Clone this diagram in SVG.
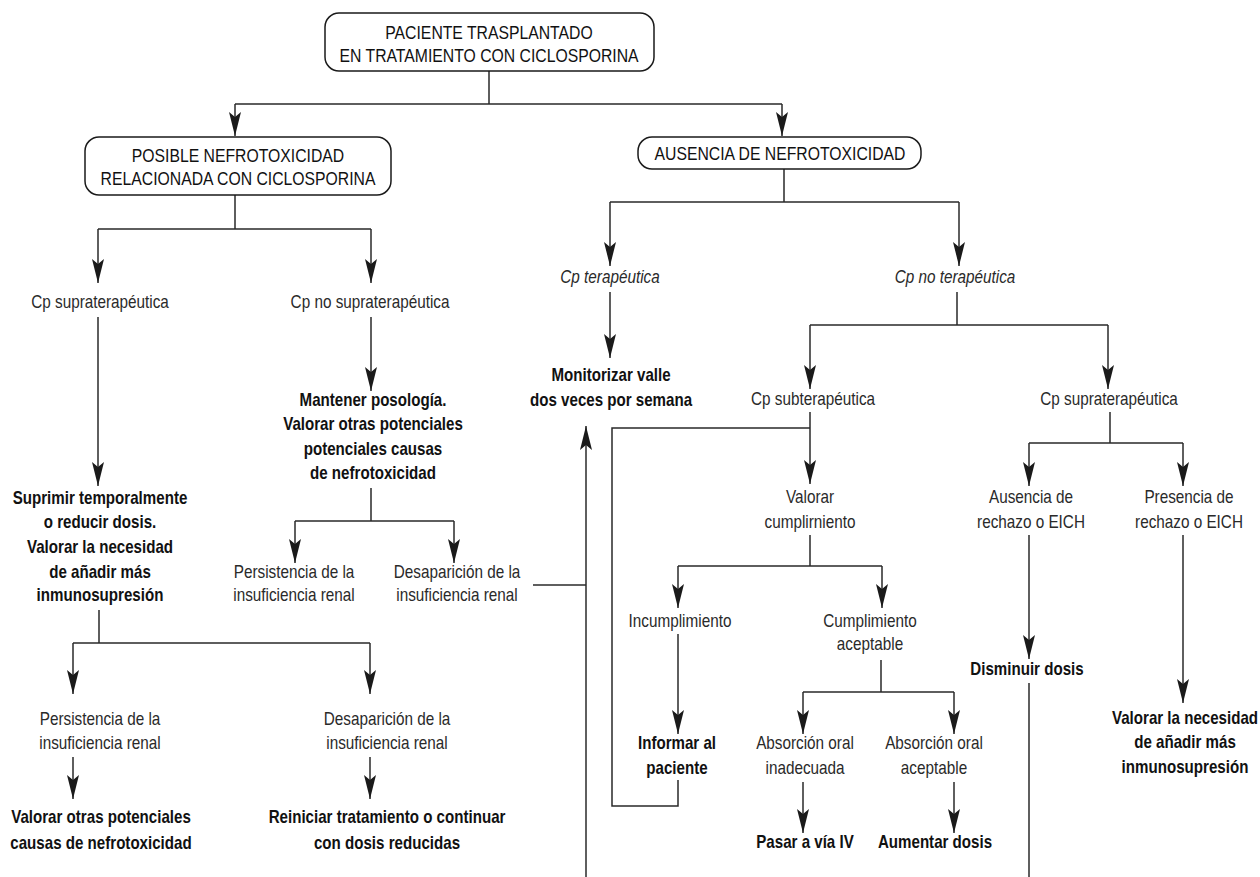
<svg xmlns="http://www.w3.org/2000/svg" width="1260" height="877" viewBox="0 0 1260 877">
<defs>
<marker id="ah" viewBox="0 0 24 12" refX="24" refY="6" markerWidth="24" markerHeight="12" markerUnits="userSpaceOnUse" orient="auto">
<path d="M0,0 L24,6 L0,12 L5,6 Z" fill="#1a1a1a"/>
</marker>
</defs>
<style>
text{font-family:"Liberation Sans",Arial,sans-serif;text-anchor:middle;fill:#2a2a2a;font-size:18px;transform-box:fill-box;transform-origin:center;transform:scaleX(0.85)}
.box{fill:#fff;stroke:#1a1a1a;stroke-width:1.5}
.bt{font-size:19px;fill:#111;transform:scaleX(0.83)}
.b{font-weight:bold;fill:#111;transform:scaleX(0.84)}
.i{font-style:italic}
.c path{fill:none;stroke:#2a2a2a;stroke-width:1.5}
.c .a{marker-end:url(#ah)}
</style>
<rect width="1260" height="877" fill="#fff"/>
<g class="c" id="connectors">
<path d="M489,71 V104 M235,104 H782"/>
<path class="a" d="M235,104 V136"/>
<path class="a" d="M782,104 V136"/>
<path d="M235,195 V229 M98,229 H371"/>
<path class="a" d="M98,229 V283"/>
<path class="a" d="M371,229 V283"/>
<path d="M784,169 V202 M610,202 H959"/>
<path class="a" d="M610,202 V266"/>
<path class="a" d="M959,202 V266"/>
<path class="a" d="M98,317 V486"/>
<path class="a" d="M371,317 V391"/>
<path d="M371,488 V521 M295,521 H454"/>
<path class="a" d="M295,521 V563"/>
<path class="a" d="M454,521 V563"/>
<path class="a" d="M610,292 V358"/>
<path d="M957,292 V325 M810,325 H1108"/>
<path class="a" d="M810,325 V389"/>
<path class="a" d="M1108,325 V389"/>
<path class="a" d="M810,412 V484"/>
<path d="M678,780 V806 H612 V428 H810"/>
<path d="M1110,412 V443 M1029,443 H1183"/>
<path class="a" d="M1029,443 V486"/>
<path class="a" d="M1183,443 V486"/>
<path d="M810,535 V566 M678,566 H882"/>
<path class="a" d="M678,566 V608"/>
<path class="a" d="M882,566 V608"/>
<path class="a" d="M678,634 V734"/>
<path d="M881,660 V692 M803,692 H954"/>
<path class="a" d="M803,692 V734"/>
<path class="a" d="M954,692 V734"/>
<path class="a" d="M803,782 V833"/>
<path class="a" d="M954,782 V833"/>
<path class="a" d="M1029,535 V659"/>
<path d="M1029,683 V877"/>
<path class="a" d="M1183,535 V703"/>
<path class="a" d="M586,877 V426"/>
<path d="M533,585 H586"/>
<path d="M99,610 V643 M73,643 H370"/>
<path class="a" d="M73,643 V694"/>
<path class="a" d="M370,643 V694"/>
<path class="a" d="M73,757 V799"/>
<path class="a" d="M370,757 V799"/>
</g>
<g id="n1"><rect class="box" x="325" y="13" width="329" height="58" rx="14"/><text class="bt" x="489" y="39">PACIENTE TRASPLANTADO</text><text class="bt" x="489" y="62">EN TRATAMIENTO CON CICLOSPORINA</text></g>
<g id="n2"><rect class="box" x="85" y="137" width="306" height="58" rx="14"/><text class="bt" x="238" y="162">POSIBLE NEFROTOXICIDAD</text><text class="bt" x="238" y="185">RELACIONADA CON CICLOSPORINA</text></g>
<g id="n3"><rect class="box" x="638" y="137" width="283" height="32" rx="14"/><text class="bt" x="780" y="160">AUSENCIA DE NEFROTOXICIDAD</text></g>
<g id="n4"><text x="100" y="308">Cp supraterapéutica</text></g>
<g id="n5"><text x="370" y="308">Cp no supraterapéutica</text></g>
<g id="n6"><text class="i" x="610" y="283">Cp terapéutica</text></g>
<g id="n7"><text class="i" x="955" y="283">Cp no terapéutica</text></g>
<g id="n8"><text class="b" x="100" y="504">Suprimir temporalmente</text><text class="b" x="100" y="528">o reducir dosis.</text><text class="b" x="100" y="553">Valorar la necesidad</text><text class="b" x="100" y="578">de añadir más</text><text class="b" x="100" y="601">inmunosupresión</text></g>
<g id="n9"><text class="b" x="373" y="406">Mantener posología.</text><text class="b" x="373" y="430">Valorar otras potenciales</text><text class="b" x="373" y="455">potenciales causas</text><text class="b" x="373" y="479">de nefrotoxicidad</text></g>
<g id="n10"><text class="b" x="611" y="381">Monitorizar valle</text><text class="b" x="611" y="406">dos veces por semana</text></g>
<g id="n11"><text x="813" y="405">Cp subterapéutica</text></g>
<g id="n12"><text x="1109" y="405">Cp supraterapéutica</text></g>
<g id="n13"><text x="810" y="503">Valorar</text><text x="810" y="528">cumplirniento</text></g>
<g id="n14"><text x="1031" y="503">Ausencia de</text><text x="1031" y="528">rechazo o EICH</text></g>
<g id="n15"><text x="1189" y="503">Presencia de</text><text x="1189" y="528">rechazo o EICH</text></g>
<g id="n16"><text x="294" y="578">Persistencia de la</text><text x="294" y="601">insuficiencia renal</text></g>
<g id="n17"><text x="457" y="578">Desaparición de la</text><text x="457" y="601">insuficiencia renal</text></g>
<g id="n18"><text x="680" y="627">Incumplimiento</text></g>
<g id="n19"><text x="870" y="627">Cumplimiento</text><text x="870" y="650">aceptable</text></g>
<g id="n20"><text class="b" x="1027" y="675">Disminuir dosis</text></g>
<g id="n21"><text class="b" x="1185" y="724">Valorar la necesidad</text><text class="b" x="1185" y="748">de añadir más</text><text class="b" x="1185" y="773">inmunosupresión</text></g>
<g id="n22"><text x="100" y="725">Persistencia de la</text><text x="100" y="749">insuficiencia renal</text></g>
<g id="n23"><text x="387" y="725">Desaparición de la</text><text x="387" y="749">insuficiencia renal</text></g>
<g id="n24"><text class="b" x="677" y="749">Informar al</text><text class="b" x="677" y="774">paciente</text></g>
<g id="n25"><text x="805" y="749">Absorción oral</text><text x="805" y="774">inadecuada</text></g>
<g id="n26"><text x="934" y="749">Absorción oral</text><text x="934" y="774">aceptable</text></g>
<g id="n27"><text class="b" x="101" y="823">Valorar otras potenciales</text><text class="b" x="101" y="849">causas de nefrotoxicidad</text></g>
<g id="n28"><text class="b" x="387" y="823">Reiniciar tratamiento o continuar</text><text class="b" x="387" y="849">con dosis reducidas</text></g>
<g id="n29"><text class="b" x="805" y="848">Pasar a vía IV</text></g>
<g id="n30"><text class="b" x="935" y="848">Aumentar dosis</text></g>
</svg>
